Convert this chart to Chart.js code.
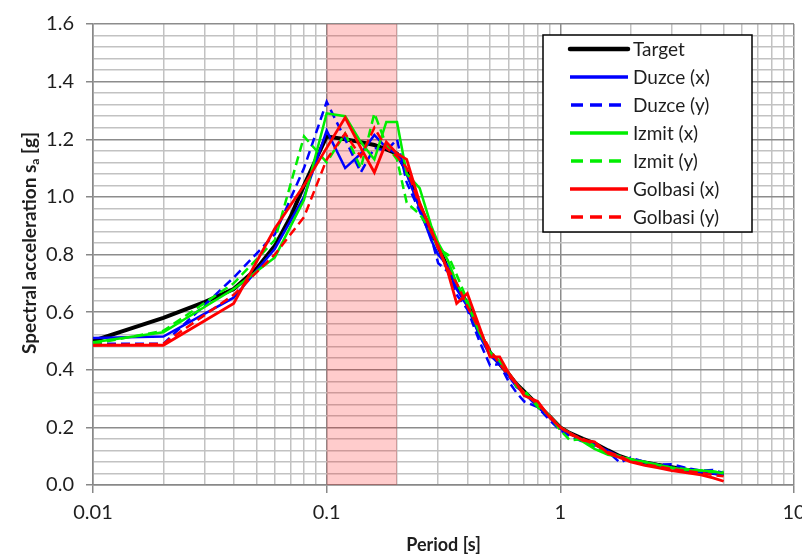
<!DOCTYPE html>
<html>
<head>
<meta charset="utf-8">
<script src="https://cdn.jsdelivr.net/npm/chart.js@4.4.0/dist/chart.umd.min.js"></script>
<style>
  html, body { margin: 0; padding: 0; background: #fff; overflow: hidden; }
  #wrap { width: 820px; height: 557px; }
</style>
</head>
<body>
<div id="wrap"><canvas id="chart" width="820" height="557"></canvas></div>
<script>
// ---- data ----
const targetPeriods = [0.01, 0.02, 0.03, 0.04, 0.05, 0.06, 0.07, 0.08, 0.09, 0.1, 0.12, 0.14, 0.16, 0.18, 0.2,
  0.22, 0.25, 0.28, 0.3, 0.33, 0.36, 0.4, 0.45, 0.5, 0.55, 0.6, 0.65, 0.7, 0.8, 0.9, 1.0,
  1.1, 1.25, 1.4, 1.6, 1.8, 2.0, 2.3, 2.6, 3.0, 3.5, 4.0, 4.5, 5.0];
const target = [0.50, 0.58, 0.635, 0.68, 0.75, 0.83, 0.93, 1.04, 1.13, 1.21, 1.20, 1.19, 1.18, 1.165, 1.15,
  1.09, 0.97, 0.88, 0.83, 0.75, 0.69, 0.63, 0.53, 0.46, 0.42, 0.385, 0.35, 0.325, 0.278, 0.238, 0.20,
  0.18, 0.16, 0.145, 0.12, 0.10, 0.087, 0.078, 0.07, 0.062, 0.052, 0.046, 0.042, 0.038];

const recordPeriods = [0.01, 0.02, 0.04, 0.06, 0.08, 0.1, 0.12, 0.14, 0.16, 0.18, 0.2, 0.22, 0.25, 0.28, 0.3,
  0.33, 0.36, 0.4, 0.45, 0.5, 0.55, 0.6, 0.65, 0.7, 0.8, 0.9, 1.0, 1.1, 1.25, 1.4, 1.6, 1.8, 2.0,
  2.3, 2.6, 3.0, 3.5, 4.0, 4.5, 5.0];
const duzceX = [0.51, 0.515, 0.65, 0.82, 1.00, 1.23, 1.10, 1.15, 1.215, 1.17, 1.15, 1.08, 0.96, 0.85, 0.80,
  0.76, 0.68, 0.62, 0.52, 0.45, 0.42, 0.38, 0.34, 0.32, 0.27, 0.235, 0.195, 0.18, 0.155, 0.14, 0.118, 0.098, 0.085,
  0.078, 0.07, 0.06, 0.05, 0.045, 0.04, 0.035];
const duzceY = [0.49, 0.49, 0.72, 0.87, 1.10, 1.33, 1.20, 1.085, 1.17, 1.16, 1.20, 1.05, 0.95, 0.86, 0.77,
  0.74, 0.66, 0.61, 0.50, 0.415, 0.42, 0.36, 0.32, 0.29, 0.27, 0.225, 0.19, 0.17, 0.15, 0.13, 0.115, 0.078, 0.095,
  0.08, 0.07, 0.072, 0.058, 0.05, 0.052, 0.042];
const izmitX = [0.495, 0.53, 0.68, 0.79, 0.99, 1.29, 1.28, 1.19, 1.13, 1.26, 1.26, 1.08, 1.03, 0.90, 0.84,
  0.78, 0.70, 0.63, 0.53, 0.46, 0.43, 0.39, 0.35, 0.32, 0.28, 0.24, 0.20, 0.18, 0.15, 0.125, 0.105, 0.098, 0.088,
  0.08, 0.07, 0.06, 0.052, 0.05, 0.048, 0.04];
const izmitY = [0.49, 0.535, 0.70, 0.85, 1.21, 1.12, 1.22, 1.10, 1.29, 1.18, 1.13, 0.98, 0.94, 0.88, 0.82,
  0.80, 0.73, 0.64, 0.54, 0.46, 0.43, 0.39, 0.34, 0.33, 0.27, 0.24, 0.19, 0.155, 0.16, 0.135, 0.11, 0.10, 0.09,
  0.08, 0.07, 0.06, 0.055, 0.05, 0.045, 0.045];
const golbasiX = [0.485, 0.485, 0.63, 0.89, 1.04, 1.17, 1.275, 1.17, 1.085, 1.19, 1.15, 1.13, 0.98, 0.88, 0.83,
  0.74, 0.63, 0.665, 0.55, 0.445, 0.445, 0.39, 0.35, 0.31, 0.29, 0.235, 0.20, 0.18, 0.155, 0.15, 0.11, 0.095, 0.08,
  0.068, 0.06, 0.05, 0.042, 0.035, 0.025, 0.013];
const golbasiY = [0.485, 0.49, 0.66, 0.80, 0.93, 1.13, 1.22, 1.14, 1.24, 1.17, 1.14, 1.10, 0.97, 0.89, 0.82,
  0.75, 0.70, 0.62, 0.54, 0.47, 0.42, 0.38, 0.35, 0.32, 0.28, 0.24, 0.20, 0.175, 0.16, 0.14, 0.115, 0.10, 0.082,
  0.072, 0.065, 0.055, 0.048, 0.042, 0.035, 0.03];

const xLabelTicks = [0.01, 0.1, 1, 10];
const yLabelTicks = [0, 0.2, 0.4, 0.6, 0.8, 1.0, 1.2, 1.4, 1.6];
const bandStart = 0.1;
const bandEnd = 0.2;

const FONT = 'Lato, "Open Sans", sans-serif';
const TEXT = '#1e1e1e';

const pts = (xs, ys) => xs.map((x, i) => ({ x, y: ys[i] }));

// minor grid positions: 1..9 in each decade, and every 0.04 on y
const xGrid = [];
for (let d = 0.01; d < 10; d *= 10) for (let k = 1; k < 10; k++) xGrid.push(+(d * k).toPrecision(3));
xGrid.push(10);
const yGrid = [];
for (let i = 0; i <= 40; i++) yGrid.push(+(i * 0.04).toFixed(2));

const isXMajor = v => xLabelTicks.some(t => Math.abs(t - v) < 1e-9);
const isYMajor = v => yLabelTicks.some(t => Math.abs(t - v) < 1e-9);

function line(label, xs, ys, color, width, dashed, order) {
  return {
    label, data: pts(xs, ys), borderColor: color, backgroundColor: color,
    borderWidth: width, borderDash: dashed ? [9, 5] : [], pointRadius: 0,
    tension: 0, fill: false, order, dashed
  };
}

const bandPlugin = {
  id: 'band',
  beforeDatasetsDraw(chart) {
    const { ctx, chartArea, scales } = chart;
    const x1 = scales.x.getPixelForValue(bandStart);
    const x2 = scales.x.getPixelForValue(bandEnd);
    ctx.save();
    ctx.fillStyle = 'rgba(255,0,0,0.2)';
    ctx.fillRect(x1, chartArea.top, x2 - x1, chartArea.bottom - chartArea.top);
    ctx.restore();
  }
};

const yTitlePlugin = {
  id: 'yTitle',
  afterDraw(chart) {
    const { ctx } = chart;
    const main = 'Spectral acceleration s', sub = 'a', tail = ' [g]';
    ctx.save();
    ctx.translate(30, 243);
    ctx.rotate(-Math.PI / 2);
    ctx.fillStyle = TEXT;
    ctx.textBaseline = 'middle';
    ctx.font = 'bold 19px ' + FONT;
    const w1 = ctx.measureText(main).width, w3 = ctx.measureText(tail).width;
    ctx.font = 'bold 12px ' + FONT;
    const w2 = ctx.measureText(sub).width;
    let x = -(w1 + w2 + w3) / 2;
    ctx.font = 'bold 19px ' + FONT;
    ctx.fillText(main, x, 0);
    x += w1;
    ctx.font = 'bold 12px ' + FONT;
    ctx.fillText(sub, x, 5);
    x += w2;
    ctx.font = 'bold 19px ' + FONT;
    ctx.fillText(tail, x, 0);
    ctx.restore();
  }
};

const boxLegendPlugin = {
  id: 'boxLegend',
  afterDraw(chart) {
    const { ctx } = chart;
    const left = 543, top = 35, w = 209, h = 197, row = 28;
    ctx.save();
    ctx.fillStyle = '#fff';
    ctx.fillRect(left, top, w, h);
    ctx.strokeStyle = '#000';
    ctx.lineWidth = 1.5;
    ctx.strokeRect(left, top, w, h);
    chart.data.datasets.forEach((ds, i) => {
      const y = top + 14 + i * row;
      ctx.beginPath();
      ctx.strokeStyle = ds.borderColor;
      ctx.lineWidth = i === 0 ? 4.5 : 3.5;
      ctx.lineCap = i === 0 ? 'round' : 'butt';
      ctx.setLineDash(ds.dashed ? [12, 7] : []);
      ctx.moveTo(ds.dashed ? 571 : 570, y);
      ctx.lineTo(628, y);
      ctx.stroke();
      ctx.setLineDash([]);
      ctx.fillStyle = TEXT;
      ctx.font = '19px ' + FONT;
      ctx.textBaseline = 'middle';
      ctx.fillText(ds.label, 633, y + 1);
    });
    ctx.restore();
  }
};

new Chart(document.getElementById('chart'), {
  type: 'line',
  data: {
    datasets: [
      line('Target', targetPeriods, target, '#000000', 4, false, 7),
      line('Duzce (x)', recordPeriods, duzceX, '#0000ff', 2.5, false, 6),
      line('Duzce (y)', recordPeriods, duzceY, '#0000ff', 2.5, true, 5),
      line('Izmit (x)', recordPeriods, izmitX, '#00ee00', 2.5, false, 4),
      line('Izmit (y)', recordPeriods, izmitY, '#00ee00', 2.5, true, 3),
      line('Golbasi (x)', recordPeriods, golbasiX, '#ff0000', 2.8, false, 2),
      line('Golbasi (y)', recordPeriods, golbasiY, '#ff0000', 2.5, true, 1)
    ]
  },
  options: {
    responsive: false,
    animation: false,
    devicePixelRatio: 1,
    layout: { padding: { left: 0, right: 26, top: 16, bottom: 0 } },
    plugins: { legend: { display: false }, tooltip: { enabled: false } },
    scales: {
      x: {
        type: 'logarithmic', min: 0.01, max: 10,
        afterBuildTicks: s => { s.ticks = xGrid.map(v => ({ value: v })); },
        afterFit: s => { s.height = 72; },
        ticks: {
          autoSkip: false, maxRotation: 0, padding: 8, color: TEXT,
          font: { family: FONT, size: 20 },
          callback: v => isXMajor(v) ? String(v) : ''
        },
        grid: {
          color: c => isXMajor(c.tick.value) ? '#8c8c8c' : '#c2c2c2',
          lineWidth: 1.5,
          tickLength: 8,
          tickColor: c => isXMajor(c.tick.value) ? '#888' : 'rgba(0,0,0,0)'
        },
        border: { display: true, color: '#888', width: 1.5 },
        title: {
          display: true, text: 'Period [s]', color: TEXT,
          font: { family: FONT, size: 18, weight: 'bold' },
          padding: { top: 0, bottom: 1 }
        }
      },
      y: {
        type: 'linear', min: 0, max: 1.6,
        afterBuildTicks: s => { s.ticks = yGrid.map(v => ({ value: v })); },
        afterFit: s => { s.width = 93; },
        ticks: {
          autoSkip: false, padding: 12, color: TEXT,
          font: { family: FONT, size: 20 },
          callback: v => isYMajor(v) ? v.toFixed(1) : ''
        },
        grid: {
          color: c => isYMajor(c.tick.value) ? '#8c8c8c' : '#c2c2c2',
          lineWidth: 1.5,
          tickLength: 7,
          tickColor: c => isYMajor(c.tick.value) ? '#888' : 'rgba(0,0,0,0)'
        },
        border: { display: true, color: '#888', width: 1.5 }
      }
    }
  },
  plugins: [bandPlugin, yTitlePlugin, boxLegendPlugin]
});
</script>
</body>
</html>
